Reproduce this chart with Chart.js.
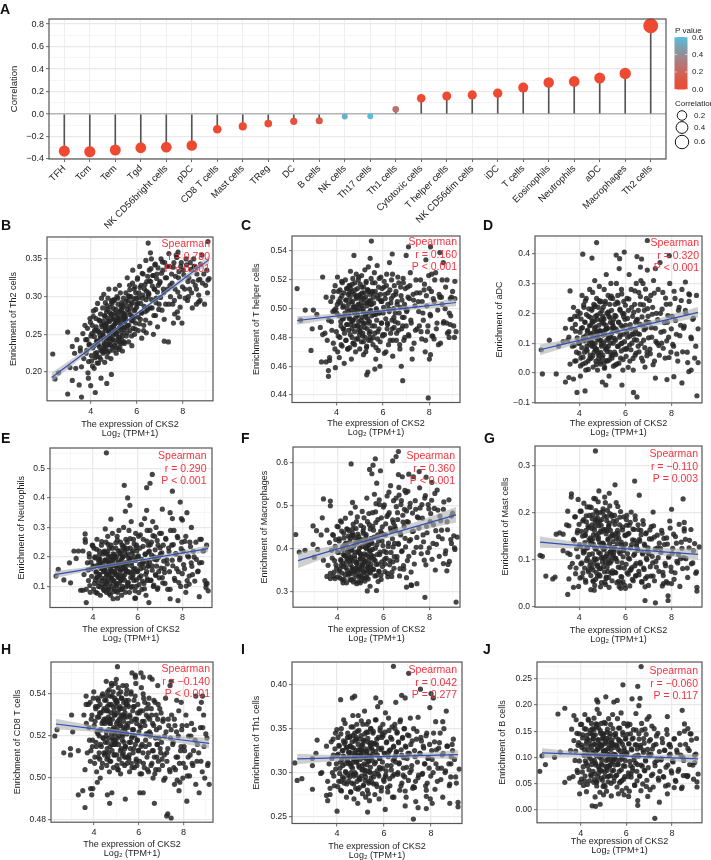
<!DOCTYPE html>
<html>
<head>
<meta charset="utf-8">
<title>CKS2 immune infiltration</title>
<script src="https://cdn.jsdelivr.net/npm/chart.js@4"></script>
<style>
  html, body { margin: 0; padding: 0; background: #fff; }
  #page { position: relative; width: 711px; height: 860px; overflow: hidden; font-family: "Liberation Sans", Arial, sans-serif; }
  #page canvas { position: absolute; }
  .letter { position: absolute; font-weight: bold; font-size: 14px; line-height: 14px; color: #111; }
</style>
</head>
<body>
<div id="page"></div>
<script>
// Panel A: lollipop values
const cellTypes = ["TFH", "Tcm", "Tem", "Tgd", "NK CD56bright cells", "pDC", "CD8 T cells", "Mast cells", "TReg", "DC", "B cells", "NK cells", "Th17 cells", "Th1 cells", "Cytotoxic cells", "T helper cells", "NK CD56dim cells", "iDC", "T cells", "Eosinophils", "Neutrophils", "aDC", "Macrophages", "Th2 cells"];
const correlations = [-0.33, -0.335, -0.32, -0.3, -0.295, -0.28, -0.135, -0.11, -0.085, -0.065, -0.06, -0.022, -0.02, 0.042, 0.14, 0.16, 0.17, 0.185, 0.235, 0.28, 0.29, 0.32, 0.36, 0.785];
const pValues = [0, 0, 0, 0, 0, 0, 0, 0.003, 0.02, 0.08, 0.117, 0.55, 0.6, 0.277, 0, 0, 0, 0, 0, 0, 0, 0, 0, 0];
const corrTicks = [-0.4, -0.2, 0, 0.2, 0.4, 0.6, 0.8];
const pLegendTicks = [0, 0.2, 0.4, 0.6];
const sizeLegend = [0.2, 0.4, 0.6];

// CKS2 expression, shared by all scatter panels
const expression = [
  3.55,3.6,3.66,3.7,3.75,3.8,3.84,3.88,3.93,3.97,
  4.01,4.04,4.07,4.09,4.12,4.15,4.18,4.2,4.23,4.25,4.28,4.3,4.33,4.35,4.38,4.4,4.42,4.45,4.47,4.49,
  4.51,4.52,4.54,4.55,4.57,4.58,4.6,4.61,4.63,4.64,4.66,4.67,4.69,4.7,4.72,4.73,4.75,4.76,4.78,4.79,4.81,4.82,4.84,4.85,4.87,4.88,4.9,4.92,4.93,4.95,4.97,4.99,
  5.01,5.02,5.04,5.05,5.07,5.08,5.1,5.11,5.13,5.14,5.16,5.17,5.19,5.2,5.22,5.23,5.25,5.26,5.28,5.29,5.31,5.32,5.34,5.35,5.37,5.38,5.4,5.42,5.43,5.45,5.47,5.49,
  5.51,5.53,5.55,5.57,5.59,5.61,5.63,5.65,5.67,5.69,5.71,5.73,5.75,5.77,5.79,5.81,5.83,5.85,5.87,5.89,5.91,5.93,5.95,5.98,
  6.01,6.04,6.07,6.1,6.13,6.16,6.19,6.22,6.25,6.28,6.31,6.34,6.37,6.4,6.42,6.44,6.47,6.49,
  6.52,6.55,6.58,6.61,6.64,6.67,6.7,6.73,6.76,6.79,6.82,6.85,6.88,6.91,6.94,6.98,
  7.02,7.06,7.1,7.14,7.18,7.22,7.26,7.3,7.34,7.38,7.42,7.47,
  7.52,7.57,7.62,7.67,7.72,7.77,7.82,7.87,7.92,7.97,
  8.03,8.09,8.15,8.21,8.27,8.33,8.39,8.45,
  8.52,8.6,8.68,8.76,8.84,8.92,9.0,9.08,
  // second pass through the crowded part of the range
  3.78,3.83,3.86,3.91,3.94,3.99,4.03,4.05,4.08,4.11,4.14,4.16,4.19,4.22,4.24,4.27,4.29,4.31,4.34,4.36,4.39,4.41,4.43,4.44,4.46,4.48,4.5,4.31,4.17,4.26,
  4.53,4.56,4.59,4.62,4.65,4.68,4.71,4.74,4.77,4.8,4.83,4.86,4.89,4.91,4.94,4.96,4.98,5.0,5.03,5.06,5.09,5.12,5.15,5.18,5.21,5.24,5.27,5.3,5.33,5.36,5.39,5.41,5.44,5.46,5.48,4.55,4.6,4.66,4.72,4.78,4.84,4.9,4.95,5.02,5.08,5.14,5.2,5.26,5.32,5.38,5.44,4.58,4.69,4.81,4.93,5.04,5.16,5.27,5.35,5.47,
  5.52,5.54,5.58,5.6,5.64,5.66,5.7,5.72,5.76,5.78,5.82,5.84,5.88,5.9,5.94,5.96,6.0,6.03,6.06,6.09,6.12,6.15,6.18,6.21,6.24,6.27,6.3,6.33,6.36,6.39,6.41,6.43,6.46,6.48,5.56,5.68,5.8,5.92,6.05,6.2,
  6.53,6.56,6.59,6.62,6.65,6.68,6.72,6.75,6.78,6.81,6.84,6.87,6.9,6.93,6.96,7.0,7.04,7.08,7.12,7.16,7.2,7.25,7.32,7.4,7.45,
  7.54,7.59,7.64,7.69,7.74,7.79,7.84,7.89,7.94,7.99,8.05,8.11,8.17,8.23,8.3,8.36,8.42,8.48,8.55,8.62,8.7,8.78,8.86,8.95,9.05
];

// x positions of the fitted line and its ribbon
const trendX = [2.3, 3.5, 5.5, 7.5, 9.15];
const xTicks = [4, 6, 8];

// Panel B: Th2 cells
const th2Y = [
  .232,.207,.251,.218,.262,.225,.243,.199,.236,.271,
  .248,.215,.262,.232,.281,.205,.256,.225,.271,.241,.212,.291,.236,.253,.22,.268,.245,.229,.298,.26,
  .252,.285,.225,.268,.303,.238,.275,.213,.258,.292,.231,.264,.28,.245,.22,.272,.298,.236,.255,.31,.228,.267,.248,.286,.241,.218,.277,.26,.295,.233,.27,.25,
  .262,.295,.235,.278,.31,.25,.283,.225,.268,.3,.243,.272,.29,.255,.23,.28,.315,.246,.265,.305,.238,.275,.258,.292,.252,.228,.286,.27,.298,.24,.277,.26,
  .275,.305,.248,.288,.325,.262,.295,.24,.28,.315,.255,.285,.3,.268,.235,.292,.335,.258,.272,.31,.25,.283,.265,.298,
  .29,.325,.255,.305,.34,.27,.315,.245,.298,.33,.262,.31,.28,.348,.252,.32,.285,.3,
  .305,.335,.265,.32,.35,.285,.328,.25,.31,.342,.275,.298,.33,.26,.315,.29,
  .32,.35,.282,.335,.305,.345,.29,.325,.31,.24,.34,.3,
  .33,.29,.345,.31,.355,.28,.325,.3,.34,.265,
  .335,.31,.35,.295,.325,.345,.305,.32,
  .34,.31,.322,.295,.355,.33,.315,.305,
  .243,.229,.258,.214,.237,.266,.222,.251,.208,.274,.235,.247,.219,.283,.26,.226,.241,.255,.212,.269,.233,.249,.277,.217,.244,.263,.228,.238,.254,.221,
  .247,.262,.231,.274,.255,.241,.288,.226,.268,.252,.279,.236,.259,.293,.244,.271,.229,.284,.257,.264,.239,.276,.251,.298,.246,.269,.233,.281,.261,.242,.289,.273,.256,.238,.267,.249,.227,.263,.283,.237,.254,.275,.243,.296,.265,.232,.27,.259,.287,.248,.278,.235,.26,.245,.291,.253,.268,.24,.282,.272,
  .271,.294,.252,.283,.301,.262,.309,.276,.29,.248,.318,.268,.297,.281,.257,.305,.286,.323,.273,.299,.264,.312,.291,.278,.331,.302,.255,.287,.316,.269,.296,.307,.282,.327,.259,.3,.274,.313,.292,.279,
  .303,.321,.285,.337,.296,.314,.328,.275,.31,.343,.292,.324,.306,.338,.283,.318,.299,.331,.346,.31,.27,.325,.34,.29,.315,
  .318,.339,.295,.327,.352,.306,.333,.286,.345,.313,.329,.298,.342,.32,.31,.336,.285,.35,.315,.33,.302,.343,.318,.29,.335
];
const th2Extra = [[6.5,.371],[2.35,.224],[2.45,.191],[2.6,.199],[3,.253],[3,.171],[3.2,.189],[3.1,.206],[3.35,.205],[3.5,.183],[3.6,.167],[3.9,.192],[4,.182],[4.2,.173],[4.45,.192],[4.7,.185],[4.9,.197],[3.2,.234],[3.4,.243],[3.55,.228],[3.3,.225],[9.1,.373],[9.15,.324],[9.1,.322],[8.75,.323],[8.6,.29],[8.7,.293],[8.25,.3],[7.8,.272],[7.65,.277],[7.2,.241],[7.6,.265],[6.6,.358],[7.8,.359],[7.4,.357],[8.5,.34]];
const th2Line = [.193,.22,.266,.311,.349];
const th2Upper = [.199,.224,.2675,.314,.354];
const th2Lower = [.187,.216,.2645,.308,.344];
const th2Ticks = [.2,.25,.3,.35];

// Panel C: T helper cells
const tHelperY = [
  .508,.478,.492,.466,.505,.485,.498,.512,.472,.5,
  .497,.522,.481,.505,.466,.513,.491,.475,.509,.518,.486,.502,.462,.495,.52,.478,.506,.489,.514,.472,
  .503,.485,.516,.494,.473,.508,.526,.489,.499,.465,.512,.48,.505,.521,.492,.476,.51,.497,.484,.518,.501,.47,.507,.524,.488,.496,.514,.479,.503,.491,.509,.482,
  .5,.517,.487,.506,.477,.523,.494,.511,.483,.498,.468,.515,.504,.49,.527,.48,.508,.496,.519,.473,.502,.486,.513,.493,.529,.478,.505,.491,.51,.484,.499,.521,
  .503,.488,.518,.475,.508,.496,.525,.483,.512,.465,.5,.492,.53,.479,.507,.515,.486,.497,.46,.51,.522,.49,.505,.481,
  .497,.515,.482,.507,.47,.524,.49,.511,.5,.532,.478,.504,.52,.486,.467,.509,.494,.516,
  .491,.51,.478,.503,.522,.485,.497,.472,.515,.46,.506,.488,.518,.494,.48,.5,
  .498,.515,.482,.507,.525,.49,.465,.51,.476,.502,.52,.486,
  .505,.488,.52,.479,.497,.513,.47,.509,.484,.523,
  .496,.512,.481,.505,.525,.49,.475,.508,
  .508,.49,.5,.52,.484,.495,.512,.48,
  .491,.508,.476,.499,.516,.484,.503,.47,.512,.495,.48,.507,.488,.519,.474,.501,.493,.511,.483,.497,.506,.478,.514,.489,.5,.472,.51,.486,.504,.493,
  .498,.511,.482,.505,.491,.517,.476,.502,.488,.513,.494,.479,.508,.499,.52,.485,.503,.472,.51,.492,.515,.481,.5,.507,.487,.496,.518,.474,.504,.49,.512,.483,.498,.506,.478,.493,.514,.486,.501,.475,.509,.495,.522,.484,.502,.49,.511,.47,.497,.505,.48,.516,.492,.5,.488,.508,.477,.494,.513,.503,
  .495,.512,.48,.504,.488,.518,.473,.499,.509,.484,.497,.521,.477,.506,.49,.514,.482,.501,.469,.51,.493,.516,.486,.503,.475,.498,.513,.483,.507,.492,.524,.478,.5,.487,.511,.496,.471,.505,.519,.489,
  .497,.512,.483,.505,.49,.518,.475,.501,.509,.486,.494,.521,.478,.503,.514,.488,.499,.508,.481,.516,.492,.472,.506,.485,.511,
  .498,.511,.484,.505,.492,.517,.478,.502,.488,.514,.495,.481,.507,.52,.486,.499,.51,.476,.503,.491,.515,.483,.497,.508,.488
];
const tHelperExtra = [[5.5,.547],[4.75,.537],[5.45,.535],[6.4,.538],[7.1,.543],[7,.537],[7.85,.534],[8.05,.543],[8.45,.539],[8.6,.532],[8.1,.524],[8.55,.52],[9.1,.519],[3.4,.522],[2.3,.514],[2.65,.499],[2.45,.492],[3,.499],[3.15,.496],[2.95,.486],[3.3,.487],[3.4,.482],[3.5,.483],[2.9,.471],[3.35,.463],[3.55,.463],[3.7,.464],[3.65,.457],[3.65,.453],[3.95,.459],[6.85,.45],[7.95,.438],[5.3,.454],[5.35,.456],[5.65,.458],[8,.465],[8.05,.468],[9.15,.484],[8.85,.48],[8.9,.489],[8.75,.49],[8.9,.507],[9.1,.507],[8.2,.479]];
const tHelperLine = [.4918,.494,.4977,.5013,.5043];
const tHelperUpper = [.4948,.496,.4987,.503,.507];
const tHelperLower = [.4888,.492,.4967,.4996,.5016];
const tHelperTicks = [.44,.46,.48,.5,.52,.54];

// Panel D: aDC
const aDCY = [
  .12,.03,.18,.09,.22,.04,.14,.07,.19,.1,
  .1,.2,.05,.15,.26,.03,.12,.22,.07,.17,.01,.25,.09,.14,.04,.19,.11,.28,.06,.16,
  .13,.05,.21,.09,.17,.27,.02,.12,.23,.07,.15,.31,.1,.19,.04,.14,.25,.08,.18,.01,.12,.22,.06,.16,.29,.11,.2,.03,.14,.24,.09,.17,
  .14,.06,.22,.1,.18,.28,.02,.13,.24,.08,.16,.33,.11,.2,.04,.15,.26,.09,.19,-.01,.12,.23,.07,.17,.3,.12,.21,.05,.15,.25,.1,.18,
  .15,.07,.23,.11,.19,.3,.03,.14,.26,.09,.17,.35,.12,.21,.05,.16,.28,.1,.2,.01,.13,.24,.08,.18,
  .16,.08,.25,.12,.21,.33,.04,.15,.28,.1,.19,.01,.13,.23,.06,.17,.3,.11,
  .18,.09,.27,.13,.23,.31,.05,.16,.3,.11,.21,.02,.15,.25,.07,.19,
  .17,.08,.26,.12,.22,.31,.04,.15,.2,.1,.28,.06,
  .2,.1,.27,.14,.05,.23,.17,.12,.3,.07,
  .19,.09,.25,.13,.04,.22,.16,.28,
  .15,.21,.07,.24,.12,.18,.05,.26,
  .092,.163,.041,.118,.207,.066,.137,.024,.181,.085,.152,.053,.228,.108,.171,.034,.125,.196,.074,.144,.012,.215,.097,.158,.048,.132,.186,.079,.112,.241,
  .104,.173,.058,.136,.222,.084,.155,.029,.194,.113,.067,.243,.142,.038,.178,.096,.209,.051,.127,.165,.016,.232,.088,.148,.072,.201,.119,.044,.186,.101,.258,.134,.061,.159,.023,.215,.091,.175,.076,.129,.048,.238,.109,.19,.035,.146,.082,.205,.121,.057,.168,.099,.226,.139,.069,.182,.042,.115,.251,.153,
  .116,.193,.062,.147,.238,.089,.171,.033,.214,.128,.074,.265,.154,.045,.199,.105,.227,.056,.136,.183,.019,.248,.094,.162,.078,.22,.131,.049,.204,.112,.275,.143,.067,.177,.027,.234,.098,.189,.083,.124,
  .132,.21,.071,.164,.256,.099,.188,.04,.228,.145,.085,.281,.172,.058,.216,.118,.243,.065,.152,.197,.028,.268,.106,.179,.092,
  .137,.214,.083,.169,.251,.108,.192,.052,.231,.148,.096,.274,.176,.064,.21,.125,.243,.071,.157,.2,.035,.262,.115,.184,.09
];
const aDCExtra = [[6.95,.444],[4.75,.437],[4.15,.398],[4.55,.385],[5.95,.405],[5.6,.395],[5.75,.383],[6.5,.39],[6.7,.382],[7.9,.393],[7.5,.37],[6.95,.345],[6.65,.355],[7.3,.35],[3.6,.275],[2.35,.078],[2.7,.11],[2.4,-.003],[3,-.003],[3.4,-.03],[3.55,-.015],[3.75,-.02],[3.9,-.065],[4.25,-.06],[4.05,-.01],[6.35,-.065],[6.5,-.08],[9.1,-.076],[9.15,.035],[8.85,.01],[8.75,.005],[8.45,-.033],[8.1,-.012],[7.8,-.022],[7.3,-.017],[9.15,.148],[8.75,.265],[8.6,.305],[5.85,-.04],[5.15,-.04],[5,-.03],[3.1,.09],[3.3,.105],[3.5,.11],[3.4,.15],[3.6,.18],[3.7,.15],[3.8,.19]];
const aDCLine = [.078,.1,.136,.173,.203];
const aDCUpper = [.096,.112,.143,.184,.221];
const aDCLower = [.06,.088,.129,.162,.185];
const aDCTicks = [-.1,0,.1,.2,.3,.4];

// Panel E: Neutrophils
const neutrophilY = [
  .22,.14,.25,.09,.18,.12,.2,.08,.16,.24,
  .17,.23,.11,.2,.08,.15,.26,.13,.19,.1,.22,.14,.07,.18,.24,.12,.16,.21,.09,.15,
  .16,.22,.1,.19,.13,.25,.08,.17,.21,.12,.27,.15,.09,.2,.14,.23,.11,.18,.07,.16,.24,.13,.19,.1,.28,.15,.21,.12,.17,.09,.2,.14,
  .17,.23,.11,.2,.14,.27,.08,.16,.22,.13,.29,.18,.09,.21,.15,.25,.12,.19,.07,.16,.24,.1,.2,.13,.3,.17,.22,.14,.18,.08,.26,.15,
  .18,.25,.11,.21,.15,.29,.08,.19,.23,.13,.32,.17,.1,.22,.14,.26,.12,.2,.06,.16,.28,.1,.24,.15,
  .2,.27,.13,.23,.16,.31,.09,.18,.26,.11,.33,.21,.07,.15,.29,.12,.24,.17,
  .22,.29,.12,.25,.17,.32,.1,.2,.27,.14,.3,.19,.09,.24,.15,.28,
  .21,.28,.13,.24,.16,.11,.26,.19,.09,.23,.15,.29,
  .24,.17,.29,.12,.21,.27,.15,.19,.1,.25,
  .22,.16,.27,.12,.2,.25,.18,.14,
  .2,.25,.15,.18,.26,.22,.12,.24,
  .156,.211,.103,.182,.134,.238,.091,.167,.197,.122,.148,.226,.077,.174,.113,.205,.141,.189,.098,.161,.252,.127,.178,.107,.216,.152,.086,.193,.131,.169,
  .163,.214,.109,.186,.138,.243,.094,.172,.201,.126,.153,.229,.082,.179,.117,.208,.146,.193,.102,.166,.257,.131,.183,.112,.221,.157,.089,.197,.135,.174,.236,.121,.159,.205,.098,.188,.142,.218,.076,.169,.128,.195,.151,.248,.105,.177,.136,.211,.092,.161,.226,.115,.184,.148,.199,.084,.171,.124,.233,.155,
  .172,.228,.114,.195,.146,.262,.097,.181,.213,.13,.159,.245,.085,.188,.122,.22,.152,.204,.106,.175,.275,.136,.192,.118,.236,.164,.092,.208,.141,.183,.254,.126,.168,.216,.103,.197,.149,.232,.079,.177,
  .183,.241,.121,.206,.155,.272,.104,.192,.224,.137,.169,.256,.095,.199,.129,.231,.162,.214,.112,.186,.147,.263,.176,.218,.09,
  .189,.242,.127,.211,.16,.265,.113,.197,.228,.143,.174,.253,.101,.204,.135,.235,.168,.219,.118,.192,.152,.26,.181,.222,.096
];
const neutrophilExtra = [[4.6,.553],[6.65,.48],[6.55,.45],[6.4,.435],[5.4,.443],[5.55,.4],[5.65,.375],[5.45,.355],[7.55,.423],[7.9,.386],[8.2,.35],[7.45,.35],[7.1,.362],[6.4,.358],[7.55,.33],[7.95,.33],[8,.325],[4.8,.328],[4.55,.295],[3.65,.278],[3.65,.26],[2.35,.135],[2.45,.158],[2.7,.122],[3,.112],[2.95,.18],[3.15,.22],[3.35,.22],[3.25,.195],[3.45,.087],[3.55,.087],[3.7,.045],[6.5,.045],[7.45,.058],[7.8,.052],[8.75,.065],[9.15,.085],[9.1,.11],[9.05,.108],[8.3,.108],[8.15,.08],[8.4,.3],[5.9,.06],[5.1,.06],[4.9,.058]];
const neutrophilLine = [.14,.155,.181,.207,.228];
const neutrophilUpper = [.152,.163,.186,.214,.24];
const neutrophilLower = [.128,.147,.176,.2,.216];
const neutrophilTicks = [.1,.2,.3,.4,.5];

// Panel F: Macrophages
const macrophageY = [
  .443,.361,.414,.342,.396,.433,.335,.372,.421,.354,
  .392,.451,.347,.423,.331,.374,.462,.343,.404,.365,.436,.328,.383,.471,.356,.412,.376,.445,.338,.401,
  .384,.442,.344,.417,.363,.483,.327,.395,.431,.352,.508,.371,.457,.322,.406,.346,.425,.378,.497,.339,.447,.367,.318,.413,.474,.358,.393,.334,.428,.349,.402,.375,
  .388,.454,.353,.421,.364,.487,.332,.381,.436,.345,.472,.368,.414,.324,.403,.351,.433,.385,.518,.341,.463,.357,.329,.408,.482,.373,.394,.312,.446,.355,.424,.379,
  .412,.484,.352,.443,.374,.527,.336,.401,.461,.363,.553,.386,.432,.323,.418,.347,.503,.392,.582,.338,.472,.369,.451,.407,
  .433,.502,.364,.458,.391,.523,.334,.413,.484,.372,.547,.442,.345,.467,.404,.512,.381,.453,
  .447,.518,.373,.484,.412,.543,.336,.436,.503,.393,.568,.462,.352,.492,.424,.531,
  .463,.534,.382,.497,.421,.314,.483,.441,.364,.512,.403,.474,
  .472,.542,.404,.503,.432,.373,.524,.452,.391,.493,
  .463,.513,.412,.494,.442,.537,.428,.476,
  .443,.492,.388,.463,.514,.421,.483,.402,
  .378,.431,.345,.405,.362,.452,.334,.391,.418,.352,.465,.372,.441,.327,.398,.358,.425,.384,.339,.412,.368,.446,.349,.394,.376,.429,.342,.408,.361,.386,
  .372,.425,.341,.398,.356,.447,.329,.384,.412,.348,.463,.366,.434,.322,.39,.352,.418,.377,.335,.405,.361,.441,.344,.388,.37,.428,.333,.402,.358,.381,.456,.346,.395,.363,.415,.327,.375,.436,.351,.392,.368,.422,.338,.386,.359,.449,.331,.4,.365,.41,.343,.379,.431,.354,.393,.325,.373,.42,.349,.385,
  .398,.452,.351,.427,.372,.486,.337,.409,.468,.364,.514,.386,.441,.328,.418,.358,.497,.394,.346,.432,.378,.475,.342,.405,.532,.362,.448,.391,.335,.423,.369,.461,.354,.412,.382,.505,.347,.436,.375,.479,
  .443,.498,.381,.468,.41,.525,.353,.432,.512,.395,.478,.36,.452,.536,.404,.488,.372,.462,.418,.506,.345,.44,.391,.492,.426,
  .448,.495,.388,.471,.416,.518,.362,.437,.503,.402,.482,.375,.456,.529,.41,.49,.382,.465,.423,.509,.395,.444,.37,.476,.43
];
const macrophageExtra = [[6.65,.627],[6.4,.605],[6.55,.615],[5.65,.61],[5.55,.595],[5.4,.585],[5.5,.575],[4.6,.598],[6.65,.573],[7.1,.574],[7.55,.58],[7.85,.567],[7.3,.568],[8.1,.555],[3.4,.516],[3.7,.511],[3.7,.5],[3.35,.472],[2.95,.453],[3.1,.442],[3.3,.432],[2.2,.433],[2.35,.392],[2.6,.396],[2.95,.41],[3.15,.398],[3,.38],[3.4,.373],[3.55,.335],[3.7,.33],[3.9,.33],[4.25,.32],[4.4,.32],[5.3,.301],[5.7,.302],[7,.31],[7.2,.315],[7,.332],[7.45,.318],[7.8,.286],[9.15,.275],[8.25,.35],[8.6,.365],[8.8,.363],[8.75,.348],[9.1,.398],[9.2,.427],[8.95,.412],[5,.32]];
const macrophageLine = [.372,.391,.422,.453,.479];
const macrophageUpper = [.39,.403,.428,.464,.497];
const macrophageLower = [.354,.379,.416,.442,.461];
const macrophageTicks = [.3,.4,.5,.6];

// Panel G: Mast cells
const mastY = [
  .173,.112,.241,.093,.144,.192,.071,.124,.163,.044,
  .133,.204,.092,.161,.064,.183,.115,.221,.083,.152,.053,.194,.126,.104,.172,.075,.143,.213,.096,.135,
  .142,.212,.084,.175,.113,.196,.055,.134,.231,.093,.164,.046,.182,.123,.205,.074,.153,.102,.191,.066,.145,.224,.116,.173,.082,.137,.201,.043,.162,.105,.186,.127,
  .136,.203,.086,.165,.104,.194,.053,.125,.222,.095,.156,.064,.184,.113,.206,.076,.145,.103,.174,.042,.134,.215,.094,.163,.073,.126,.193,.056,.154,.106,.183,.117,
  .123,.195,.074,.156,.103,.184,.052,.135,.214,.085,.146,.043,.175,.114,.203,.065,.132,.094,.164,.054,.125,.192,.083,.153,
  .134,.186,.073,.155,.104,.174,.045,.126,.202,.084,.143,.056,.165,.113,.194,.066,.093,.136,
  .124,.175,.076,.144,.095,.163,.054,.115,.184,.083,.134,.043,.156,.104,.065,.126,
  .113,.164,.066,.145,.094,.173,.056,.124,.085,.153,.105,.136,
  .125,.163,.074,.146,.093,.054,.134,.106,.183,.085,
  .114,.155,.073,.136,.094,.176,.103,.125,
  .105,.144,.083,.126,.165,.094,.135,.075,
  .141,.192,.083,.158,.107,.176,.062,.129,.204,.094,.151,.073,.186,.118,.137,.057,.163,.099,.213,.126,.079,.169,.112,.195,.088,.147,.067,.181,.121,.154,
  .136,.188,.079,.154,.103,.172,.059,.125,.201,.09,.147,.069,.183,.114,.133,.052,.16,.096,.209,.122,.075,.165,.108,.192,.085,.143,.063,.178,.117,.15,.098,.196,.072,.139,.111,.167,.056,.128,.186,.087,.157,.066,.174,.105,.131,.048,.162,.093,.199,.119,.077,.145,.101,.18,.082,.135,.061,.17,.113,.152,
  .127,.176,.073,.146,.097,.163,.055,.118,.191,.084,.138,.064,.17,.107,.124,.047,.152,.091,.195,.114,.07,.157,.102,.18,.08,.133,.059,.166,.11,.142,.088,.186,.067,.13,.104,.156,.051,.12,.174,.078,
  .121,.165,.069,.14,.092,.154,.053,.113,.176,.08,.131,.061,.158,.101,.117,.046,.145,.086,.171,.108,.066,.149,.097,.126,.076,
  .116,.157,.067,.133,.088,.147,.051,.108,.168,.076,.125,.059,.15,.097,.112,.044,.138,.082,.162,.103,.063,.142,.092,.12,.072
];
const mastExtra = [[4.7,.332],[6.4,.268],[5.55,.26],[6.6,.238],[4.85,.247],[5.3,.242],[5.1,.234],[4.7,.23],[3.65,.234],[3.95,.229],[5.6,.222],[8.5,.23],[7.2,.202],[8,.208],[3.5,.204],[2.3,.11],[2.4,.108],[2.55,.066],[2.85,.06],[2.95,.064],[3.5,.027],[3.55,.06],[3.75,.042],[6.85,.014],[7.3,.009],[7.85,.014],[7.85,.024],[9.1,.034],[9.1,.042],[9.2,.128],[8.55,.18],[8.55,.167],[3,.155],[3.15,.158],[3.3,.155],[3.45,.175],[3.3,.12],[3.5,.115],[3.6,.085],[4.5,.037],[4.65,.036],[5.8,.04],[6,.04],[7.65,.05],[8,.05],[7.6,.045]];
const mastLine = [.138,.133,.126,.118,.112];
const mastUpper = [.15,.141,.13,.125,.124];
const mastLower = [.126,.125,.122,.111,.1];
const mastTicks = [0,.1,.2,.3];

// Panel H: CD8 T cells
const cd8Y = [
  .53,.504,.526,.512,.535,.518,.508,.528,.515,.538,
  .525,.51,.534,.517,.503,.529,.521,.537,.512,.531,.5,.523,.515,.539,.507,.527,.519,.533,.511,.526,
  .527,.512,.537,.52,.506,.532,.517,.541,.51,.529,.523,.535,.503,.526,.515,.539,.508,.531,.521,.544,.513,.528,.518,.534,.505,.524,.516,.538,.511,.53,.522,.536,
  .526,.511,.536,.519,.504,.531,.516,.54,.509,.528,.522,.534,.502,.525,.514,.538,.507,.53,.52,.544,.512,.527,.517,.533,.506,.523,.515,.537,.51,.529,.521,.535,
  .524,.51,.534,.517,.503,.529,.514,.54,.507,.527,.52,.532,.512,.523,.537,.505,.528,.516,.545,.509,.526,.518,.531,.513,
  .522,.508,.532,.515,.502,.527,.512,.538,.505,.525,.518,.53,.51,.521,.535,.503,.516,.528,
  .52,.506,.53,.513,.5,.525,.51,.536,.504,.523,.516,.528,.508,.519,.533,.512,
  .517,.506,.528,.511,.5,.522,.508,.514,.525,.504,.519,.53,
  .516,.505,.525,.51,.499,.52,.507,.513,.523,.5,
  .515,.505,.525,.51,.501,.52,.507,.513,
  .518,.508,.512,.524,.503,.515,.521,.506,
  .524,.536,.513,.53,.518,.541,.507,.527,.533,.515,.522,.538,.51,.529,.52,.535,.516,.531,.505,.526,.54,.519,.532,.512,.528,.537,.517,.523,.534,.509,
  .528,.539,.514,.532,.519,.542,.508,.526,.535,.516,.523,.541,.511,.53,.521,.537,.517,.534,.506,.527,.543,.52,.533,.513,.529,.538,.518,.524,.536,.51,.531,.515,.54,.525,.507,.522,.534,.512,.528,.545,.519,.532,.516,.537,.504,.526,.541,.521,.53,.514,.535,.509,.527,.539,.518,.524,.533,.511,.529,.542,
  .526,.537,.511,.53,.517,.541,.505,.523,.534,.514,.52,.539,.508,.528,.518,.535,.513,.531,.502,.524,.543,.516,.532,.507,.527,.536,.515,.521,.533,.504,.529,.512,.538,.522,.509,.519,.534,.506,.525,.54,
  .521,.533,.507,.526,.513,.537,.502,.519,.53,.51,.516,.535,.504,.524,.514,.531,.509,.527,.499,.52,.538,.512,.528,.503,.523,
  .517,.528,.504,.522,.51,.532,.498,.515,.525,.507,.513,.53,.501,.52,.511,.526,.506,.523,.497,.516,.533,.508,.524,.5,.519
];
const cd8Extra = [[5.05,.553],[5,.547],[4.95,.545],[5.7,.55],[6.1,.55],[5.85,.549],[5.85,.548],[6.5,.548],[6.2,.548],[6.6,.547],[4.55,.546],[7.45,.546],[6.85,.544],[7.4,.544],[5.45,.544],[8.55,.539],[8.85,.539],[8.8,.536],[7.7,.537],[7.9,.536],[8.9,.53],[3.65,.539],[3.65,.535],[3,.53],[2.25,.52],[2.35,.523],[2.65,.512],[2.95,.514],[2.95,.511],[3.3,.513],[3.05,.522],[3.3,.492],[3.5,.494],[3.6,.486],[3.85,.495],[3.95,.495],[3.9,.492],[4.15,.498],[4.6,.492],[4.7,.488],[4.8,.493],[5.4,.49],[6.05,.493],[6.2,.493],[6.7,.488],[7.25,.482],[7.3,.483],[7.45,.481],[8.15,.489],[8.7,.493],[9.15,.497],[9.1,.507],[7.8,.494],[7.6,.497]];
const cd8Line = [.5257,.5241,.5214,.5187,.5165];
const cd8Upper = [.5282,.5258,.5222,.5201,.519];
const cd8Lower = [.5232,.5224,.5206,.5173,.514];
const cd8Ticks = [.48,.5,.52,.54];

// Panel I: Th1 cells
const th1Y = [
  .33,.29,.31,.275,.335,.3,.32,.285,.345,.31,
  .32,.34,.29,.33,.305,.28,.35,.315,.295,.325,.36,.288,.31,.335,.3,.272,.328,.345,.312,.29,
  .318,.34,.295,.33,.31,.278,.352,.322,.288,.335,.305,.365,.298,.328,.27,.315,.345,.3,.325,.282,.338,.312,.355,.29,.32,.265,.332,.308,.348,.293,.326,.315,
  .32,.342,.296,.331,.308,.276,.355,.323,.286,.336,.303,.37,.299,.327,.272,.316,.346,.302,.324,.28,.339,.313,.358,.29,.319,.268,.333,.306,.35,.294,.328,.314,
  .321,.345,.295,.333,.31,.275,.36,.324,.287,.338,.302,.375,.298,.328,.27,.316,.348,.304,.326,.283,.34,.312,.355,.292,
  .322,.346,.297,.334,.308,.278,.362,.325,.285,.34,.303,.352,.296,.329,.272,.316,.35,.312,
  .323,.345,.298,.335,.31,.28,.36,.326,.288,.34,.305,.35,.295,.33,.272,.316,
  .322,.342,.3,.332,.308,.282,.35,.325,.29,.338,.312,.297,
  .322,.34,.298,.33,.31,.285,.345,.316,.305,.27,
  .325,.3,.335,.31,.29,.328,.345,.305,
  .322,.3,.33,.31,.295,.325,.315,.288,
  .316,.338,.296,.327,.304,.349,.284,.321,.331,.299,.312,.344,.279,.325,.308,.336,.293,.318,.356,.301,.329,.287,.314,.34,.297,.323,.31,.333,.29,.319,
  .323,.341,.3,.329,.311,.352,.287,.319,.336,.298,.315,.347,.281,.326,.306,.338,.292,.321,.359,.303,.332,.285,.317,.344,.295,.324,.309,.335,.276,.313,.328,.3,.35,.318,.289,.33,.307,.342,.296,.322,.312,.365,.283,.327,.304,.337,.291,.32,.346,.301,.331,.278,.316,.34,.294,.325,.31,.355,.288,.334,
  .325,.347,.299,.333,.312,.36,.284,.32,.34,.296,.316,.351,.279,.328,.305,.342,.29,.322,.368,.302,.335,.283,.318,.348,.293,.326,.308,.338,.272,.314,.33,.298,.355,.319,.287,.332,.306,.344,.295,.323,
  .324,.346,.3,.334,.311,.358,.285,.32,.339,.297,.317,.35,.279,.329,.306,.343,.291,.322,.362,.303,.336,.284,.318,.347,.294,
  .322,.336,.299,.328,.31,.342,.288,.317,.332,.296,.315,.345,.281,.326,.305,.334,.292,.32,.35,.302,.33,.285,.318,.338,.295
];
const th1Extra = [[6.4,.421],[7.05,.413],[7.55,.395],[8,.39],[8.1,.385],[7.95,.374],[8.65,.37],[6.9,.385],[6.75,.388],[6.5,.38],[5.65,.385],[4.15,.383],[4.65,.385],[4.75,.387],[5.85,.38],[2.2,.311],[2.3,.291],[2.5,.293],[2.95,.281],[2.95,.308],[2.95,.316],[3.1,.322],[3.15,.337],[3.3,.299],[3.35,.3],[3.55,.274],[3.6,.268],[3.7,.282],[4,.256],[5.3,.255],[6.05,.258],[6.9,.262],[7.25,.247],[7.35,.267],[7.45,.26],[7.8,.259],[7.8,.273],[8.05,.265],[8.5,.272],[8.8,.265],[8.8,.287],[9.15,.266],[9.15,.261],[9.2,.304],[8.85,.31],[8.9,.332],[8.2,.358],[8.5,.358],[7.3,.283],[7.8,.28],[7.45,.363]];
const th1Line = [.3155,.3164,.3178,.3193,.3205];
const th1Upper = [.3215,.3204,.3198,.3223,.3255];
const th1Lower = [.3095,.3124,.3158,.3163,.3155];
const th1Ticks = [.25,.3,.35,.4];

// Panel J: B cells
const bCellY = [
  .113,.154,.063,.132,.094,.172,.075,.123,.145,.052,
  .124,.163,.072,.143,.046,.115,.182,.093,.154,.034,.135,.084,.173,.102,.055,.146,.125,.064,.165,.093,
  .114,.155,.073,.136,.052,.175,.094,.126,.024,.143,.085,.164,.103,.045,.192,.116,.063,.134,.156,.082,.184,.125,.033,.104,.146,.074,.165,.095,.123,.056,.135,.112,
  .104,.145,.063,.126,.044,.165,.083,.114,.035,.136,.075,.154,.096,.053,.174,.105,.064,.123,.146,.086,.163,.115,.026,.094,.133,.074,.182,.106,.125,.054,.143,.085,
  .103,.146,.065,.124,.043,.174,.086,.115,.134,.073,.156,.095,.054,.185,.104,.036,.125,.143,.084,.165,.113,.063,.094,.136,
  .105,.144,.063,.126,.035,.163,.084,.116,.135,.074,.153,.095,.046,.103,.184,.124,.055,.086,
  .104,.145,.064,.123,.036,.165,.083,.114,.136,.075,.154,.093,.044,.173,.025,.106,
  .103,.134,.065,.116,.043,.155,.084,.125,.094,.146,.056,.073,
  .095,.136,.063,.114,.045,.153,.085,.124,.106,.074,
  .093,.135,.056,.114,.073,.146,.104,.043,
  .094,.125,.063,.113,.145,.085,.104,.136,
  .112,.146,.071,.128,.093,.163,.058,.119,.137,.082,.104,.155,.064,.125,.089,.142,.048,.116,.171,.076,.133,.098,.152,.067,.121,.086,.144,.108,.055,.131,
  .108,.142,.068,.124,.089,.159,.054,.115,.133,.078,.1,.151,.06,.121,.085,.138,.044,.112,.167,.072,.129,.094,.148,.063,.117,.082,.14,.104,.05,.127,.091,.155,.075,.119,.098,.135,.057,.11,.163,.07,.126,.087,.145,.047,.113,.08,.131,.102,.065,.123,.096,.153,.052,.118,.074,.137,.106,.084,.128,.061,
  .105,.139,.066,.122,.087,.156,.051,.112,.13,.076,.098,.148,.058,.118,.083,.135,.041,.109,.164,.07,.126,.092,.145,.062,.114,.08,.137,.101,.047,.124,.089,.152,.073,.116,.095,.132,.055,.107,.16,.068,
  .102,.135,.064,.119,.085,.152,.049,.109,.127,.074,.095,.144,.056,.115,.08,.131,.038,.106,.16,.068,.123,.09,.141,.06,.111,
  .097,.128,.062,.113,.081,.144,.047,.104,.12,.07,.091,.136,.054,.109,.077,.124,.04,.1,.15,.065,.117,.086,.133,.058,.106
];
const bCellExtra = [[6.65,.274],[5.85,.239],[6.5,.236],[6.6,.213],[6.25,.212],[5.1,.216],[4.7,.21],[4.75,.206],[5.45,.206],[5.6,.209],[6.55,.199],[8.45,.19],[7.8,.178],[8.55,.164],[7,.178],[3,.183],[3.3,.194],[3.7,.18],[2.2,.073],[2.3,.103],[2.45,.086],[2.85,.1],[3.1,.11],[3.3,.052],[3.5,.06],[3.95,.03],[4.5,.007],[4.65,.006],[4.85,.01],[6.5,.017],[6.5,.008],[7.25,-.017],[7.45,.014],[7.8,.03],[9.15,.068],[9.1,.053],[9.1,.043],[8.7,.065],[8.5,.065],[8.1,.042],[5.9,.028],[6.1,.025],[5.65,.03],[5,.028],[7.9,.125],[8.8,.145],[8.7,.155],[9,.09]];
const bCellLine = [.1085,.1065,.1031,.0997,.097];
const bCellUpper = [.1175,.1125,.1061,.1047,.106];
const bCellLower = [.0995,.1005,.1001,.0947,.088];
const bCellTicks = [0,.05,.1,.15,.2,.25];

const FONT = '"Liberation Sans", Arial, sans-serif';
const TEXT = "#222222";
const FRAME = "#555555";
const GRID_MAJOR = "#e9e9e9";
const GRID_MINOR = "#f3f3f3";
const RED_TEXT = "#f5333f";

Chart.defaults.font.family = FONT;
Chart.defaults.color = TEXT;
Chart.defaults.animation = false;

const page = document.getElementById("page");

function addLetter(text, x, y) {
  const el = document.createElement("div");
  el.className = "letter";
  el.textContent = text;
  el.style.left = x + "px";
  el.style.top = y + "px";
  page.appendChild(el);
}

function addCanvas(left, top, width, height) {
  const canvas = document.createElement("canvas");
  canvas.width = width;
  canvas.height = height;
  canvas.style.left = left + "px";
  canvas.style.top = top + "px";
  canvas.style.width = width + "px";
  canvas.style.height = height + "px";
  page.appendChild(canvas);
  return canvas.getContext("2d");
}

// Draws the dark panel frame on top of everything
const framePlugin = {
  id: "frame",
  afterDraw(chart) {
    const { ctx, chartArea: a } = chart;
    ctx.save();
    ctx.strokeStyle = FRAME;
    ctx.lineWidth = 1.2;
    ctx.strokeRect(a.left, a.top, a.right - a.left, a.bottom - a.top);
    ctx.restore();
  }
};

function tickFormat(value, digits) {
  return value.toFixed(digits).replace("-", "\u2212");
}

// majors plus the midpoints between them (and one step outside), as in a ggplot grid
function withMinors(majors, min, max) {
  const step = majors[1] - majors[0];
  const all = majors.slice();
  for (let i = -1; i < majors.length; i++) {
    const mid = majors[0] + (i + 0.5) * step;
    if (mid > min && mid < max) all.push(mid);
  }
  return all;
}

function gridOptions(majors) {
  return {
    color: ctx => (ctx.tick && majors.includes(ctx.tick.value)) ? GRID_MAJOR : GRID_MINOR,
    lineWidth: ctx => (ctx.tick && majors.includes(ctx.tick.value)) ? 1.3 : 0.7,
    tickColor: ctx => (ctx.tick && majors.includes(ctx.tick.value)) ? "#444" : "rgba(0,0,0,0)",
    tickLength: 3,
    tickWidth: 0.8
  };
}

// Panels B-J
function renderScatter(p) {
  const plotW = p.right - p.left;
  const plotH = p.bottom - p.top;
  const yW = p.titleGap + 5.4;
  const xH = p.xTitleGap + 9 + 4.5;
  const canvasLeft = p.left - Math.ceil(yW);
  const padLeft = Math.ceil(yW) - yW;
  const ctx = addCanvas(canvasLeft, p.top - 10, Math.ceil(yW) + plotW + 8, 10 + plotH + Math.ceil(xH) + 2);

  const points = p.y.map((v, i) => ({ x: expression[i], y: v }))
    .concat(p.extra.map(e => ({ x: e[0], y: e[1] })));
  const toXY = arr => arr.map((v, i) => ({ x: trendX[i], y: v }));

  const notePlugin = {
    id: "note",
    afterDraw(chart) {
      const { ctx: c, chartArea: a } = chart;
      c.save();
      c.fillStyle = RED_TEXT;
      c.font = "10.5px " + FONT;
      c.textAlign = "right";
      c.textBaseline = "middle";
      p.note.forEach((line, i) => c.fillText(line, a.right - p.noteRight, a.top + p.noteTop + i * 12.8));
      c.restore();
    }
  };

  new Chart(ctx, {
    type: "scatter",
    data: {
      datasets: [
        { type: "line", data: toXY(p.line), borderColor: "#3050b4", borderWidth: 1.2, pointRadius: 0, fill: false, order: 1 },
        { type: "line", data: toXY(p.lower), borderWidth: 0, borderColor: "rgba(0,0,0,0)", pointRadius: 0, fill: false, order: 2 },
        { type: "line", data: toXY(p.upper), borderWidth: 0, borderColor: "rgba(0,0,0,0)", pointRadius: 0, fill: "-1", backgroundColor: "rgba(175,175,175,0.6)", order: 2 },
        { data: points, backgroundColor: "rgba(38,38,38,0.85)", borderWidth: 0, pointRadius: 2.6, order: 3 }
      ]
    },
    options: {
      responsive: false,
      layout: { padding: { top: 10, right: 8, bottom: 2, left: padLeft } },
      plugins: { legend: { display: false }, tooltip: { enabled: false } },
      scales: {
        x: {
          type: "linear",
          min: p.xMin,
          max: p.xMax,
          afterBuildTicks: s => { s.ticks = withMinors(xTicks, p.xMin, p.xMax).map(v => ({ value: v })); },
          afterFit: s => { s.height = xH; },
          grid: gridOptions(xTicks),
          border: { display: false },
          ticks: {
            autoSkip: false, maxRotation: 0, padding: 2, color: TEXT, font: { size: 9 },
            callback: v => xTicks.includes(v) ? String(v) : ""
          },
          title: {
            display: true,
            text: ["The expression of CKS2", "Log\u2082 (TPM+1)"],
            color: TEXT,
            padding: { top: 0, bottom: 0 },
            font: { size: 9, lineHeight: "9px" }
          }
        },
        y: {
          min: p.yMin,
          max: p.yMax,
          afterBuildTicks: s => { s.ticks = withMinors(p.ticks, p.yMin, p.yMax).map(v => ({ value: v })); },
          afterFit: s => { s.width = yW; },
          grid: gridOptions(p.ticks),
          border: { display: false },
          ticks: {
            autoSkip: false, padding: 2, color: TEXT, font: { size: 8.5 },
            callback: v => p.ticks.includes(v) ? tickFormat(v, p.digits) : ""
          },
          title: {
            display: true,
            text: p.title,
            color: TEXT,
            padding: { top: 0, bottom: 0 },
            font: { size: 9 }
          }
        }
      }
    },
    plugins: [framePlugin, notePlugin]
  });
}

// P value colour: red at 0 through grey to blue at 0.6
function pColor(p) {
  const t = Math.pow(Math.min(p / 0.6, 1), 1.3);
  const mix = (a, b) => Math.round(a + (b - a) * t);
  return "rgb(" + mix(238, 86) + "," + mix(74, 190) + "," + mix(50, 220) + ")";
}

function dotRadius(c) {
  return 2.1 + 6 * Math.sqrt(Math.abs(c));
}

// Panel A
function renderLollipop() {
  const ctx = addCanvas(0, 0, 711, 232);
  const indices = cellTypes.map((_, i) => i);

  const legendPlugin = {
    id: "pLegend",
    afterDraw(chart) {
      const c = chart.ctx;
      const barTop = 37, barBottom = 89.5;
      const yOf = v => barBottom - (v / 0.6) * (barBottom - barTop);
      c.save();
      const grad = c.createLinearGradient(0, barBottom, 0, barTop);
      for (let s = 0; s <= 6; s++) grad.addColorStop(s / 6, pColor(s / 10));
      c.fillStyle = grad;
      c.fillRect(674.5, barTop, 13, barBottom - barTop);
      c.fillStyle = TEXT;
      c.font = "8px " + FONT;
      c.textBaseline = "middle";
      c.fillText("P value", 675, 31);
      pLegendTicks.forEach(v => {
        c.fillText(v.toFixed(1), 692, yOf(v) + (v === 0.6 ? 1 : 0));
        c.fillStyle = "#fff";
        c.fillRect(674.5, yOf(v) - 0.3, 2.5, 0.6);
        c.fillRect(685, yOf(v) - 0.3, 2.5, 0.6);
        c.fillStyle = TEXT;
      });
      c.fillText("Correlation", 675, 104);
      const rows = [115.5, 127.5, 142];
      c.strokeStyle = "#111";
      c.lineWidth = 1;
      sizeLegend.forEach((v, i) => {
        c.beginPath();
        c.arc(682, rows[i], dotRadius(v), 0, Math.PI * 2);
        c.stroke();
        c.fillText(v.toFixed(1), 694, rows[i]);
      });
      c.restore();
    }
  };

  const yMin = -0.4, yMax = 0.845;

  new Chart(ctx, {
    data: {
      datasets: [
        {
          type: "scatter",
          data: indices.map(i => ({ x: i, y: correlations[i] })),
          backgroundColor: c => pColor(pValues[c.dataIndex]),
          pointRadius: c => dotRadius(correlations[c.dataIndex]),
          borderWidth: 0,
          clip: false,
          order: 1
        },
        {
          type: "bar",
          data: indices.map(i => ({ x: i, y: correlations[i] })),
          backgroundColor: "#555555",
          barThickness: 1,
          order: 2
        }
      ]
    },
    options: {
      responsive: false,
      layout: { padding: { top: 19, right: 45, bottom: 2, left: 0 } },
      plugins: { legend: { display: false }, tooltip: { enabled: false } },
      scales: {
        x: {
          type: "linear",
          offset: false,
          min: -0.6,
          max: 23.6,
          afterBuildTicks: s => { s.ticks = indices.map(v => ({ value: v })); },
          afterFit: s => { s.height = 232 - 19 - 140 - 2; },
          grid: { offset: false, color: "#eeeeee", lineWidth: 1, tickColor: "#444", tickLength: 3, tickWidth: 0.8 },
          border: { display: false },
          ticks: {
            autoSkip: false, minRotation: 45, maxRotation: 45, padding: 1, color: TEXT, font: { size: 9.5 },
            callback: v => cellTypes[v]
          }
        },
        y: {
          min: yMin,
          max: yMax,
          afterBuildTicks: s => { s.ticks = withMinors(corrTicks, yMin, yMax).map(v => ({ value: v })); },
          afterFit: s => { s.width = 49; },
          grid: {
            color: c => c.tick && c.tick.value === 0 ? "#b4b4b4" : (c.tick && corrTicks.includes(c.tick.value) ? GRID_MAJOR : GRID_MINOR),
            lineWidth: c => c.tick && c.tick.value === 0 ? 1.6 : (c.tick && corrTicks.includes(c.tick.value) ? 1.3 : 0.8),
            tickColor: c => c.tick && corrTicks.includes(c.tick.value) ? "#444" : "rgba(0,0,0,0)",
            tickLength: 3,
            tickWidth: 0.8
          },
          border: { display: false },
          ticks: {
            autoSkip: false, padding: 2, color: TEXT, font: { size: 9 },
            callback: v => corrTicks.includes(v) ? tickFormat(v, 1) : ""
          },
          title: {
            display: true,
            text: "Correlation",
            color: TEXT,
            padding: { top: 9, bottom: 0 },
            font: { size: 9.5 }
          }
        }
      }
    },
    plugins: [framePlugin, legendPlugin]
  });
}

renderLollipop();

renderScatter({ title: "Enrichment of Th2 cells", y: th2Y, extra: th2Extra, line: th2Line, upper: th2Upper, lower: th2Lower, ticks: th2Ticks, digits: 2,
  note: ["Spearman", "r = 0.780", "P < 0.001"], left: 47, right: 213, top: 237, bottom: 400, xMin: 2.1, xMax: 9.32, yMin: 0.162, yMax: 0.379, titleGap: 33, xTitleGap: 23.7, noteRight: 3, noteTop: 7 });
renderScatter({ title: "Enrichment of T helper cells", y: tHelperY, extra: tHelperExtra, line: tHelperLine, upper: tHelperUpper, lower: tHelperLower, ticks: tHelperTicks, digits: 2,
  note: ["Spearman", "r = 0.160", "P < 0.001"], left: 292, right: 460, top: 236, bottom: 402, xMin: 2.08, xMax: 9.32, yMin: 0.4348, yMax: 0.5505, titleGap: 35, xTitleGap: 21, noteRight: 3, noteTop: 6 });
renderScatter({ title: "Enrichment of aDC", y: aDCY, extra: aDCExtra, line: aDCLine, upper: aDCUpper, lower: aDCLower, ticks: aDCTicks, digits: 1,
  note: ["Spearman", "r = 0.320", "P < 0.001"], left: 535, right: 702, top: 236, bottom: 402, xMin: 2.08, xMax: 9.32, yMin: -0.1, yMax: 0.459, titleGap: 35, xTitleGap: 20.6, noteRight: 3, noteTop: 7 });
renderScatter({ title: "Enrichment of Neutrophils", y: neutrophilY, extra: neutrophilExtra, line: neutrophilLine, upper: neutrophilUpper, lower: neutrophilLower, ticks: neutrophilTicks, digits: 1,
  note: ["Spearman", "r = 0.290", "P < 0.001"], left: 50, right: 212, top: 448, bottom: 607, xMin: 2.08, xMax: 9.32, yMin: 0.0284, yMax: 0.5695, titleGap: 28, xTitleGap: 22, noteRight: 5.5, noteTop: 8 });
renderScatter({ title: "Enrichment of Macrophages", y: macrophageY, extra: macrophageExtra, line: macrophageLine, upper: macrophageUpper, lower: macrophageLower, ticks: macrophageTicks, digits: 1,
  note: ["Spearman", "r = 0.360", "P < 0.001"], left: 293, right: 460, top: 447, bottom: 607, xMin: 2.08, xMax: 9.32, yMin: 0.263, yMax: 0.6375, titleGap: 28, xTitleGap: 22.3, noteRight: 5, noteTop: 9 });
renderScatter({ title: "Enrichment of Mast cells", y: mastY, extra: mastExtra, line: mastLine, upper: mastUpper, lower: mastLower, ticks: mastTicks, digits: 1,
  note: ["Spearman", "r = \u22120.110", "P = 0.003"], left: 535, right: 702, top: 446, bottom: 607, xMin: 2.08, xMax: 9.32, yMin: 0, yMax: 0.3425, titleGap: 29, xTitleGap: 23.4, noteRight: 4, noteTop: 8 });
renderScatter({ title: "Enrichment of CD8 T cells", y: cd8Y, extra: cd8Extra, line: cd8Line, upper: cd8Upper, lower: cd8Lower, ticks: cd8Ticks, digits: 2,
  note: ["Spearman", "r = \u22120.140", "P < 0.001"], left: 51, right: 213, top: 662, bottom: 822, xMin: 2.08, xMax: 9.32, yMin: 0.479, yMax: 0.5552, titleGap: 33, xTitleGap: 22.3, noteRight: 3, noteTop: 7 });
renderScatter({ title: "Enrichment of Th1 cells", y: th1Y, extra: th1Extra, line: th1Line, upper: th1Upper, lower: th1Lower, ticks: th1Ticks, digits: 2,
  note: ["Spearman", "r = 0.042", "P = 0.277"], left: 292, right: 462, top: 662, bottom: 823, xMin: 2.08, xMax: 9.32, yMin: 0.242, yMax: 0.4259, titleGap: 35, xTitleGap: 23, noteRight: 5, noteTop: 8 });
renderScatter({ title: "Enrichment of B cells", y: bCellY, extra: bCellExtra, line: bCellLine, upper: bCellUpper, lower: bCellLower, ticks: bCellTicks, digits: 2,
  note: ["Spearman", "r = \u22120.060", "P = 0.117"], left: 537, right: 702, top: 662, bottom: 822, xMin: 2.08, xMax: 9.32, yMin: -0.0256, yMax: 0.2827, titleGap: 34, xTitleGap: 18.7, noteRight: 4, noteTop: 9 });

addLetter("A", 0, 2);
addLetter("B", 1, 218);
addLetter("C", 241, 218);
addLetter("D", 483, 218);
addLetter("E", 1, 431);
addLetter("F", 241, 431);
addLetter("G", 484, 431);
addLetter("H", 1, 642);
addLetter("I", 241, 642);
addLetter("J", 483, 642);
</script>
</body>
</html>
